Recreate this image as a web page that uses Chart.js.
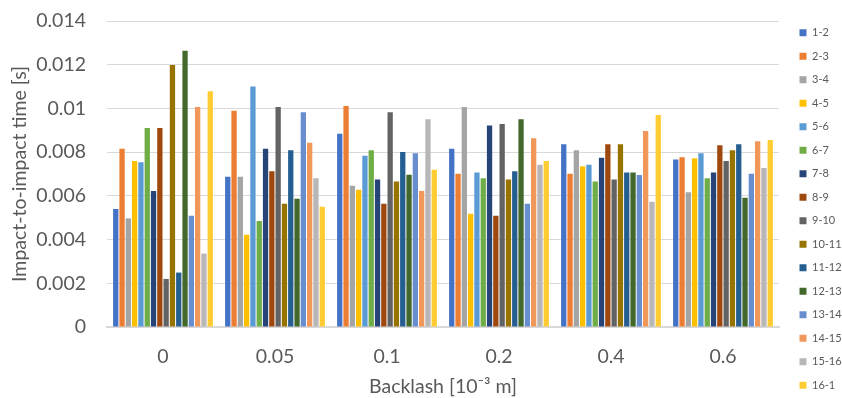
<!DOCTYPE html>
<html>
<head>
<meta charset="utf-8">
<script src="https://cdn.jsdelivr.net/npm/chart.js"></script>
<style>
  html, body { margin: 0; padding: 0; background: #fff; }
  #wrap { width: 842px; height: 398px; }
</style>
</head>
<body>
<div id="wrap"><canvas id="impactChart" width="842" height="398"></canvas></div>
<script>
// backlash values on the x axis [10^-3 m]
const backlash = ['0', '0.05', '0.1', '0.2', '0.4', '0.6'];

// impact pairs
const pairs = ['1-2', '2-3', '3-4', '4-5', '5-6', '6-7', '7-8', '8-9',
               '9-10', '10-11', '11-12', '12-13', '13-14', '14-15', '15-16', '16-1'];

const pairColors = ['#4472C4', '#ED7D31', '#A5A5A5', '#FFC000', '#5B9BD5', '#70AD47',
                    '#264478', '#9E480E', '#636363', '#997300', '#255E91', '#43682B',
                    '#698ED0', '#F1975A', '#B7B7B7', '#FFCD33'];

// impact-to-impact time [s], one row per pair, one value per backlash
const t12   = [0.0054,  0.00687, 0.00884, 0.00815, 0.00836, 0.00766];
const t23   = [0.00815, 0.00989, 0.01011, 0.00701, 0.00701, 0.00777];
const t34   = [0.00497, 0.00687, 0.00646, 0.01006, 0.00809, 0.00617];
const t45   = [0.0076,  0.00422, 0.00628, 0.00518, 0.00736, 0.00772];
const t56   = [0.00754, 0.011,   0.00783, 0.00707, 0.00742, 0.00795];
const t67   = [0.0091,  0.00485, 0.00809, 0.00681, 0.00666, 0.00681];
const t78   = [0.00622, 0.00815, 0.00675, 0.00922, 0.00774, 0.00707];
const t89   = [0.0091,  0.00713, 0.00564, 0.00509, 0.00836, 0.00831];
const t910  = [0.0022,  0.01006, 0.00983, 0.00929, 0.00675, 0.0076];
const t1011 = [0.01199, 0.00564, 0.00666, 0.00675, 0.00836, 0.00809];
const t1112 = [0.00249, 0.00809, 0.00801, 0.00713, 0.00707, 0.00836];
const t1213 = [0.01264, 0.00587, 0.00696, 0.00951, 0.00707, 0.00591];
const t1314 = [0.00509, 0.00983, 0.00795, 0.00564, 0.00695, 0.00701];
const t1415 = [0.01006, 0.00843, 0.00622, 0.00863, 0.00897, 0.0085];
const t1516 = [0.00336, 0.00681, 0.00951, 0.00742, 0.00573, 0.00728];
const t161  = [0.01079, 0.0055,  0.00719, 0.0076,  0.0097,  0.00856];

const times = [t12, t23, t34, t45, t56, t67, t78, t89, t910, t1011, t1112, t1213, t1314, t1415, t1516, t161];

const textColor = '#595959';
const gridColor = '#D9D9D9';
const fontFamily = 'Lato, "Open Sans", sans-serif';
const axisFont = { family: fontFamily, size: 19.5 };

// legend: one tall column with a fixed width, pushed a bit away from the plot
const legendPlacement = {
  id: 'legendPlacement',
  beforeInit(chart) {
    const fit = chart.legend.fit;
    chart.legend.fit = function () {
      this.maxHeight = 440;
      fit.call(this);
      this.width = 63;
    };
  },
  afterLayout(chart) {
    const lg = chart.legend;
    lg.left += 8;
    lg.right += 8;
    lg.top = -2;
    lg.bottom = 420;
    lg.height = 422;
  }
};

const datasets = pairs.map((name, i) => ({
  label: name,
  data: times[i],
  backgroundColor: pairColors[i],
  borderWidth: 0,
  categoryPercentage: 0.9,
  barPercentage: 0.84
}));

new Chart(document.getElementById('impactChart'), {
  type: 'bar',
  data: { labels: backlash, datasets: datasets },
  options: {
    responsive: false,
    animation: false,
    layout: { padding: { top: 21, right: 0, bottom: 0, left: 0 } },
    plugins: {
      tooltip: { enabled: false },
      legend: {
        position: 'right',
        labels: {
          boxWidth: 7,
          boxHeight: 7,
          padding: 12.5,
          color: textColor,
          font: { family: fontFamily, size: 11 }
        }
      }
    },
    scales: {
      x: {
        grid: { display: false, drawTicks: false },
        border: { color: gridColor, width: 2 },
        ticks: { color: textColor, padding: 18, font: axisFont },
        title: {
          display: true,
          text: 'Backlash [10\u207B\u00B3 m]',
          color: textColor,
          padding: { top: 0, bottom: 0 },
          font: axisFont
        },
        afterFit(scale) { scale.height = 71; }
      },
      y: {
        min: 0,
        max: 0.014,
        grid: { color: gridColor, drawTicks: false },
        border: { display: false },
        ticks: {
          stepSize: 0.002,
          color: textColor,
          padding: 21,
          font: axisFont,
          callback: v => String(+v.toFixed(3))
        },
        title: {
          display: true,
          text: 'Impact-to-impact time [s]',
          color: textColor,
          padding: { top: 8, bottom: 0 },
          font: axisFont
        },
        afterFit(scale) {
          scale.width = 107;
          scale.paddingTop = 0;
          scale.paddingBottom = 0;
        }
      }
    }
  },
  plugins: [legendPlacement]
});
</script>
</body>
</html>
